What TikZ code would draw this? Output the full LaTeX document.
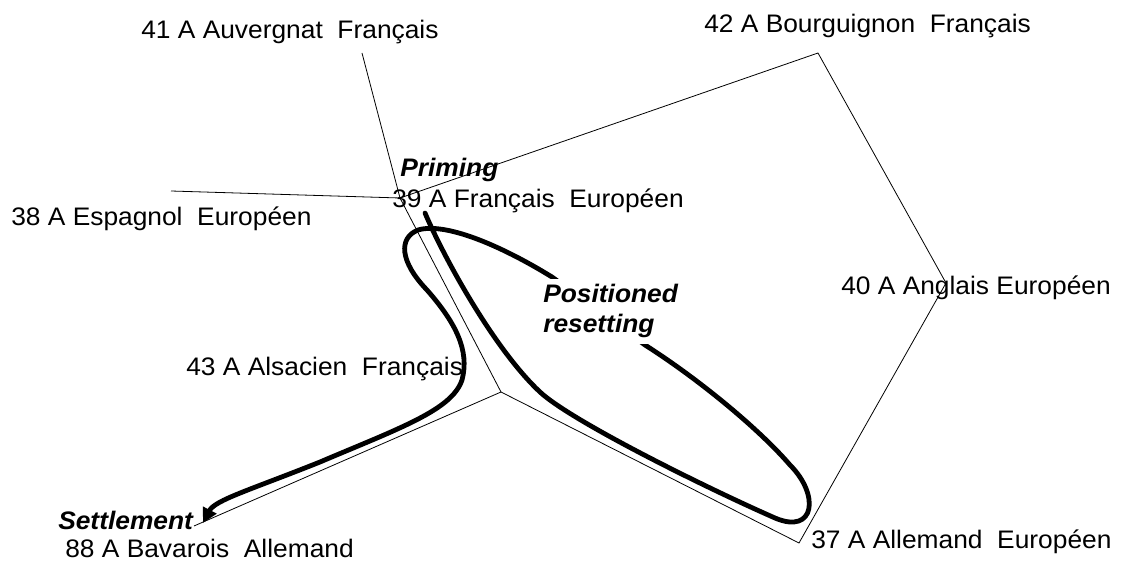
\documentclass[tikz,border=0pt]{standalone}
\usepackage{fontspec}
\setmainfont{Liberation Sans}[FakeStretch=1.04]
\usetikzlibrary{arrows.meta}

\begin{document}
\begin{tikzpicture}[x=75pt,y=75pt,
    axis/.style={line width=0.6pt},
    lbl/.style={inner sep=0pt,anchor=base west,font=\fontsize{19}{23}\selectfont},
    tag/.style={lbl,font=\fontsize{19}{23}\selectfont\bfseries\itshape},
    route/.style={line width=3.6pt,line cap=round,line join=round}]
  \useasboundingbox (0,0) rectangle (11.21,5.61);
  % Axis ends
  \coordinate (c41) at (3.62,5.08);
  \coordinate (c42) at (8.18,5.08);
  \coordinate (c38) at (1.71,3.70);
  \coordinate (c39) at (4.00,3.63);
  \coordinate (c40) at (9.46,2.78);
  \coordinate (cjn) at (5.01,1.69);
  \coordinate (c37) at (7.99,0.18);
  \coordinate (c88) at (1.94,0.35);
  % Axes
  \draw[axis] (c38) -- (c39);
  \draw[axis] (c41) -- (c39) -- (cjn);
  \draw[axis] (c88) -- (cjn) -- (c37) -- (c40) -- (c42) -- (c39);
  % Labels
  \node[lbl] (l41) at (1.41,5.22) {41 A Auvergnat\ \ Français};
  \node[lbl] (l42) at (7.04,5.28) {42 A Bourguignon\ \ Français};
  \node[lbl] (l38) at (0.11,3.35) {38 A Espagnol\ \ Européen};
  \node[lbl] (l39) at (3.92,3.53) {39 A Français\ \ Européen};
  \node[lbl] (l40) at (8.41,2.66) {40 A Anglais Européen};
  \node[lbl] (l43) at (1.86,1.85) {43 A Alsacien\ \ Français};
  \node[lbl] (l37) at (8.11,0.13) {37 A Allemand\ \ Européen};
  \node[lbl] (l88) at (0.65,0.04) {88 A Bavarois\ \ Allemand};
  % Trajectory
  \draw[route,-{Triangle[length=11pt,width=11pt]}] (4.25,3.48)
    .. controls (4.45,3.01) and (4.95,2.11) .. (5.40,1.69)
    .. controls (5.70,1.41) and (7.00,0.76) .. (7.75,0.43)
    .. controls (8.15,0.26) and (8.20,0.66) .. (7.90,0.96)
    .. controls (7.60,1.31) and (7.00,1.81) .. (6.45,2.16)
    -- (5.52,2.84)
    .. controls (5.00,3.16) and (4.45,3.39) .. (4.18,3.31)
    .. controls (3.98,3.23) and (4.00,2.99) .. (4.27,2.71)
    .. controls (4.55,2.39) and (4.70,2.11) .. (4.62,1.81)
    .. controls (4.52,1.51) and (4.00,1.33) .. (3.20,0.99)
    .. controls (2.50,0.71) and (2.15,0.61) .. (2.03,0.38);
  \node[tag] (prime) at (4.00,3.84) {Priming};
  \node[tag,fill=white,inner ysep=4pt] (reset1) at (5.43,2.58) {Positioned};
  \node[tag,fill=white,inner ysep=4pt] (reset2) at (5.43,2.28) {resetting};
  \node[tag] (settle) at (0.58,0.32) {Settlement};
\end{tikzpicture}
\end{document}
